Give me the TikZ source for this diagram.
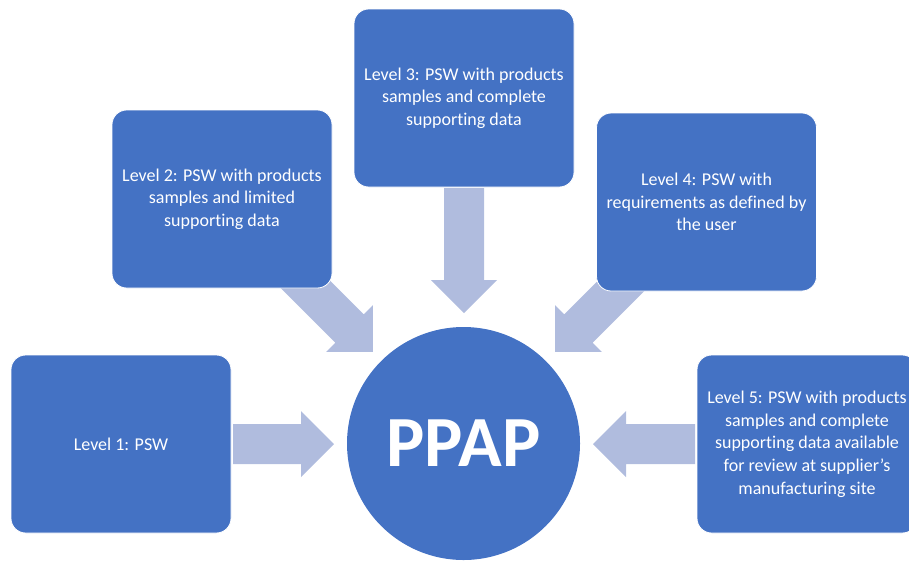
\documentclass[tikz,border=0pt]{standalone}
\usepackage{fontspec}
\setmainfont[Ligatures=NoCommon]{Carlito}
\definecolor{boxblue}{RGB}{68,114,196}
\definecolor{arrowblue}{RGB}{176,188,222}

\tikzset{
	level/.style={rectangle, rounded corners=11pt, fill=boxblue, draw=white, line width=0.6pt, text=white, minimum width=165pt, minimum height=133.5pt, align=center, inner sep=0pt, font=\fontsize{13.5}{17}\selectfont},
	hub/.style={circle, fill=boxblue, text=white, minimum size=174.75pt, inner sep=0pt, font=\fontsize{54}{60}\selectfont\bfseries},
	pics/blockarrow/.style={code={\fill[arrowblue] (0,-20) -- (#1-33,-20) -- (#1-33,-33) -- (#1,0) -- (#1-33,33) -- (#1-33,20) -- (0,20) -- cycle;}}
}

\begin{document}
\begin{tikzpicture}[x=0.75pt, y=-0.75pt]
	\useasboundingbox (0,0) rectangle (909,561);

	% arrows
	\coordinate (t1) at (233,444);
	\coordinate (t2) at (288,267);
	\coordinate (t3) at (464,188);
	\coordinate (t4) at (640,267);
	\coordinate (t5) at (695,444);
	\pic at (t1) {blockarrow=101};
	\pic[rotate=-45] at (t2) {blockarrow=120};
	\pic[rotate=-90] at (t3) {blockarrow=125};
	\pic[rotate=-135] at (t4) {blockarrow=120};
	\pic[rotate=180] at (t5) {blockarrow=102};

	% levels
	\node[level] (l1) at (121,444) {Level 1: PSW};
	\node[level] (l2) at (222,199) {Level 2: PSW with products\\samples and limited\\supporting data};
	\node[level] (l3) at (464,98) {Level 3: PSW with products\\samples and complete\\supporting data};
	\node[level] (l4) at (706.5,202) {Level 4: PSW with\\requirements as defined by\\the user};
	\node[level] (l5) at (807,444) {Level 5: PSW with products\\samples and complete\\supporting data available\\for review at supplier’s\\manufacturing site};

	% centre
	\node[hub] (ppap) at (463.5,443.5) {PPAP};
\end{tikzpicture}
\end{document}
